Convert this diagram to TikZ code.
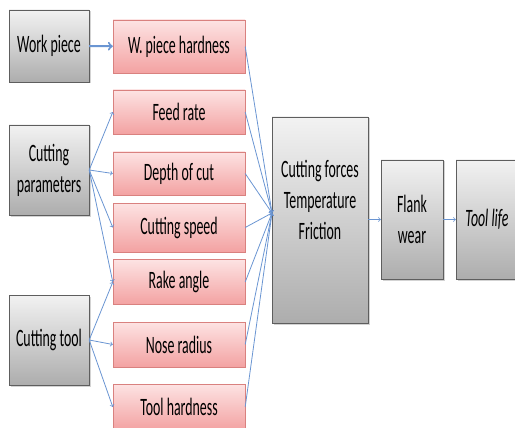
\documentclass[tikz,border=0pt]{standalone}
\usepackage{fontspec}
\setmainfont{Carlito}[FakeStretch=0.555]
\usetikzlibrary{shadows}
\definecolor{graytop}{HTML}{F2F2F2}
\definecolor{graybot}{HTML}{ADADAD}
\definecolor{graydraw}{HTML}{5E5E5E}
\definecolor{pinktop}{HTML}{FDE3E3}
\definecolor{pinkbot}{HTML}{F3A2A2}
\definecolor{pinkdraw}{HTML}{D9817F}
\definecolor{linkblue}{HTML}{6A95D2}
\begin{document}
\begin{tikzpicture}[x=1pt,y=-1pt,font=\fontsize{25}{31}\selectfont,
graybox/.style={draw=graydraw,top color=graytop,bottom color=graybot,align=center,inner sep=0pt,
  drop shadow={shadow xshift=1.5pt,shadow yshift=-1.5pt,opacity=.35}},
pinkbox/.style={draw=pinkdraw,top color=pinktop,bottom color=pinkbot,inner sep=0pt,
  minimum width=132pt,minimum height=45pt},
link/.style={draw=linkblue,line width=.8pt,->}]
\useasboundingbox (0,0) rectangle (515,428);
% causes on the left
\node[graybox,minimum width=80pt,minimum height=72pt] (work) at (49,46) {Work piece};
\node[graybox,minimum width=80pt,minimum height=90pt] (params) at (49,170) {Cutting\\parameters};
\node[graybox,minimum width=80pt,minimum height=90pt] (tool) at (49,340) {Cutting tool};
% parameters
\node[pinkbox,minimum height=53pt] (whard) at (179,46.5) {W. piece hardness};
\node[pinkbox,minimum height=44pt] (feed) at (179,112) {Feed rate};
\node[pinkbox,minimum height=43pt] (depth) at (179,173.5) {Depth of cut};
\node[pinkbox,minimum height=49pt] (speed) at (179,227.5) {Cutting speed};
\node[pinkbox] (rake) at (179,282) {Rake angle};
\node[pinkbox] (nose) at (179,344.5) {Nose radius};
\node[pinkbox,minimum height=46pt] (thard) at (179,407) {Tool hardness};
% effects
\node[graybox,minimum width=96pt,minimum height=206pt,text depth=40pt] (forces) at (320,220) {Cutting forces\\Temperature\\Friction};
\node[graybox,minimum width=62pt,minimum height=119pt] (flank) at (412,219.5) {Flank\\wear};
\node[graybox,minimum width=62pt,minimum height=119pt] (life) at (487,219.5) {\itshape Tool life};
\coordinate (hub) at (272,213);
% connectors
\draw[link,line width=2pt] (work) -- (whard);
\foreach \p in {feed,depth,speed,rake}
  \draw[link] (params.east) -- (\p.west);
\foreach \p in {rake,nose,thard}
  \draw[link] (tool.east) -- (\p.west);
\foreach \p in {whard,feed,depth,speed,rake,nose,thard}
  \draw[link] (\p.east) -- (hub);
\draw[link] (forces.east |- flank) -- (flank.west);
\draw[link] (flank) -- (life);
\end{tikzpicture}
\end{document}
